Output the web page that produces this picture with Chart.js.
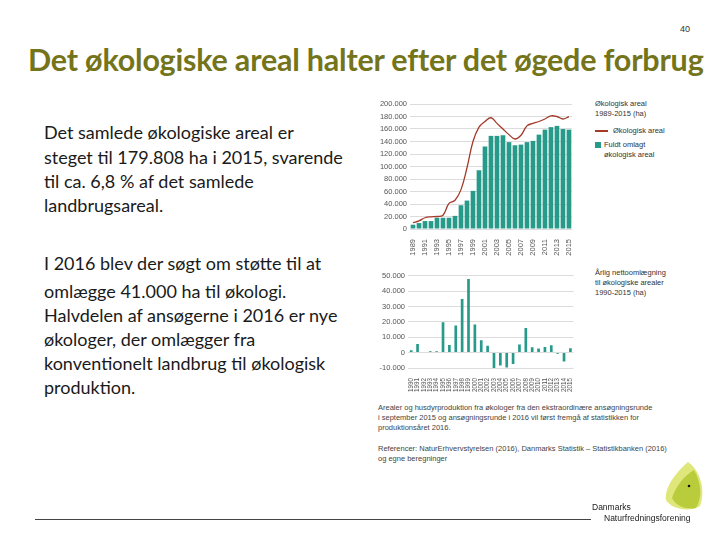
<!DOCTYPE html>
<html>
<head>
<meta charset="utf-8">
<script src="https://cdn.jsdelivr.net/npm/chart.js@4"></script>
<style>
  body { margin: 0; background: #fff; }
  #slide { position: relative; width: 720px; height: 540px; overflow: hidden; font-family: Lato, "Open Sans", sans-serif; }
  .abs { position: absolute; white-space: nowrap; }
  #title { left: 28px; top: 41px; font-size: 30.5px; font-weight: bold; color: #74741a; letter-spacing: -0.2px; }
  #pagenum { left: 680px; top: 24px; font-size: 9px; color: #333; font-family: "Liberation Sans", sans-serif; }
  .body { left: 44px; font-size: 18px; color: #1a1a1a; line-height: 24px; }
  .small { font-family: "Liberation Sans", sans-serif; font-size: 7.5px; color: #444; line-height: 10px; }
  canvas { position: absolute; }
</style>
</head>
<body>
<div id="slide">
  <div id="pagenum" class="abs">40</div>
  <div id="title" class="abs">Det økologiske areal halter efter det øgede forbrug</div>

  <div class="abs body" style="top:120px">Det samlede økologiske areal er</div>
  <div class="abs body" style="top:145px">steget til 179.808 ha i 2015, svarende</div>
  <div class="abs body" style="top:169px">til ca. 6,8 % af det samlede</div>
  <div class="abs body" style="top:193px">landbrugsareal.</div>
  <div class="abs body" style="top:251px">I 2016 blev der søgt om støtte til at</div>
  <div class="abs body" style="top:279px">omlægge 41.000 ha til økologi.</div>
  <div class="abs body" style="top:303px">Halvdelen af ansøgerne i 2016 er nye</div>
  <div class="abs body" style="top:327px">økologer, der omlægger fra</div>
  <div class="abs body" style="top:351px">konventionelt landbrug til økologisk</div>
  <div class="abs body" style="top:375px">produktion.</div>

  <canvas id="topChart" width="215" height="170" style="left:365px;top:95px"></canvas>
  <canvas id="bottomChart" width="215" height="130" style="left:365px;top:265px"></canvas>

  <div class="abs small" style="left:595px;top:99px;color:#333">Økologisk areal<br>1989-2015 (ha)</div>
  <div class="abs" style="left:595px;top:130px;width:13px;height:1.5px;background:#a33b2b"></div>
  <div class="abs small" style="left:613px;top:126px;color:#333">Økologisk areal</div>
  <div class="abs" style="left:595px;top:142px;width:6px;height:6px;background:#279a8a"></div>
  <div class="abs small" style="left:604px;top:140px;color:#333">Fuldt omlagt<br>økologisk areal</div>

  <div class="abs small" style="left:595px;top:268px;color:#333">Årlig nettoomlægning<br>til økologiske arealer<br>1990-2015 (ha)</div>

  <div class="abs small" style="left:378px;top:403px">Arealer og husdyrproduktion fra økologer fra den ekstraordinære ansøgningsrunde<br>i september 2015 og ansøgningsrunde i 2016 vil først fremgå af statistikken for<br>produktionsåret 2016.</div>
  <div class="abs small" style="left:378px;top:444px">Referencer: NaturErhvervstyrelsen (2016), Danmarks Statistik – Statistikbanken (2016)<br>og egne beregninger</div>

  <svg class="abs" style="left:0;top:0" width="720" height="540">
    <path d="M688 462 C700 470 706 490 700 506 C690 512 672 510 666 500 C664 488 676 472 688 462 Z" fill="#dfe67a"/>
    <path d="M694 470 C702 484 702 498 696 508 C686 510 676 506 672 498 C676 486 684 476 694 470 Z" fill="#b9cc3c"/>
    <circle cx="689" cy="486" r="1.3" fill="#111"/>
    <line x1="35" y1="519.5" x2="591" y2="519.5" stroke="#444" stroke-width="1"/>
  </svg>
  <div class="abs" style="left:592px;top:502px;font-size:8.5px;color:#222;font-family:'Liberation Sans',sans-serif">Danmarks</div>
  <div class="abs" style="left:604px;top:513px;font-size:8.5px;color:#222;font-family:'Liberation Sans',sans-serif">Naturfredningsforening</div>
</div>

<script>
// Top chart: økologisk areal 1989-2015 (ha)
const yearsTop = ['1989', '1990', '1991', '1992', '1993', '1994', '1995', '1996', '1997', '1998', '1999', '2000', '2001', '2002',
  '2003', '2004', '2005', '2006', '2007', '2008', '2009', '2010', '2011', '2012', '2013', '2014', '2015'];
const totalAreal = [10000, 13000, 18000, 19500, 20000, 22000, 41000, 46000, 63000, 98000, 140000, 163000, 172000, 178000,
  169000, 160000, 151000, 144000, 150000, 165000, 169000, 172000, 176000, 181000, 180000, 176000, 179808];
const fuldtOmlagt = [6900, 9500, 12700, 12700, 18000, 18000, 18000, 21000, 38000, 45500, 61000, 94000, 132000, 149000,
  149000, 150000, 139000, 134000, 135000, 139000, 141000, 151000, 159000, 163000, 165000, 160000, 159000];
const ticksTop = [0, 20000, 40000, 60000, 80000, 100000, 120000, 140000, 160000, 180000, 200000];

// Bottom chart: årlig nettoomlægning 1990-2015 (ha)
const yearsBottom = ['1990', '1991', '1992', '1993', '1994', '1995', '1996', '1997', '1998', '1999', '2000', '2001', '2002',
  '2003', '2004', '2005', '2006', '2007', '2008', '2009', '2010', '2011', '2012', '2013', '2014', '2015'];
const nettoOmlaegning = [1500, 5600, 400, 900, 900, 19700, 5000, 17700, 34800, 47800, 18200, 8000, 4500,
  -11000, -8400, -9700, -7400, 5200, 16000, 3500, 2600, 3700, 4800, -800, -5800, 2800];
const ticksBottom = [-10000, 0, 10000, 20000, 30000, 40000, 50000];

const teal = '#279a8a';
const red = '#a33b2b';
const fmt = v => String(v).replace(/\B(?=(\d{3})+(?!\d))/g, '.');
const tickFont = { family: 'Liberation Sans', size: 7.5 };

new Chart(document.getElementById('topChart'), {
  data: {
    labels: yearsTop,
    datasets: [
      { type: 'line', label: 'Økologisk areal', data: totalAreal, borderColor: red, borderWidth: 1.3,
        pointRadius: 0, tension: 0.4, fill: false },
      { type: 'bar', label: 'Fuldt omlagt økologisk areal', data: fuldtOmlagt, backgroundColor: teal,
        barPercentage: 0.78, categoryPercentage: 1 }
    ]
  },
  options: {
    responsive: false, animation: false,
    layout: { padding: { top: 9, right: 2, left: 0, bottom: 0 } },
    plugins: { legend: { display: false }, tooltip: { enabled: false } },
    scales: {
      x: {
        grid: { display: false }, border: { display: false },
        afterFit: s => { s.height = 36; },
        ticks: { autoSkip: false, maxRotation: 90, minRotation: 90, font: tickFont, color: '#555', padding: 2,
          callback: function (v, i) { return i % 2 === 0 ? this.getLabelForValue(v) : ''; } }
      },
      y: {
        min: 0, max: 200000,
        afterBuildTicks: s => { s.ticks = ticksTop.map(v => ({ value: v })); },
        afterFit: s => { s.width = 45; },
        grid: { color: '#dcdcdc', lineWidth: 1, drawTicks: false }, border: { display: false },
        ticks: { font: tickFont, color: '#555', padding: 3, callback: v => fmt(v) }
      }
    }
  }
});

new Chart(document.getElementById('bottomChart'), {
  type: 'bar',
  data: {
    labels: yearsBottom,
    datasets: [
      { label: 'Årlig nettoomlægning', data: nettoOmlaegning, backgroundColor: teal,
        barPercentage: 0.42, categoryPercentage: 1 }
    ]
  },
  options: {
    responsive: false, animation: false,
    layout: { padding: { top: 10.7, right: 2, left: 0, bottom: 0 } },
    plugins: { legend: { display: false }, tooltip: { enabled: false } },
    scales: {
      x: {
        grid: { display: false }, border: { display: false },
        afterFit: s => { s.height = 27; },
        ticks: { autoSkip: false, maxRotation: 90, minRotation: 90, font: { family: 'Liberation Sans', size: 6.3 },
          color: '#555', padding: 2 }
      },
      y: {
        min: -10000, max: 50000,
        afterBuildTicks: s => { s.ticks = ticksBottom.map(v => ({ value: v })); },
        afterFit: s => { s.width = 43; },
        grid: { color: '#dcdcdc', lineWidth: 1, drawTicks: false }, border: { display: false },
        ticks: { font: tickFont, color: '#555', padding: 3, callback: v => fmt(v) }
      }
    }
  }
});
</script>
</body>
</html>
